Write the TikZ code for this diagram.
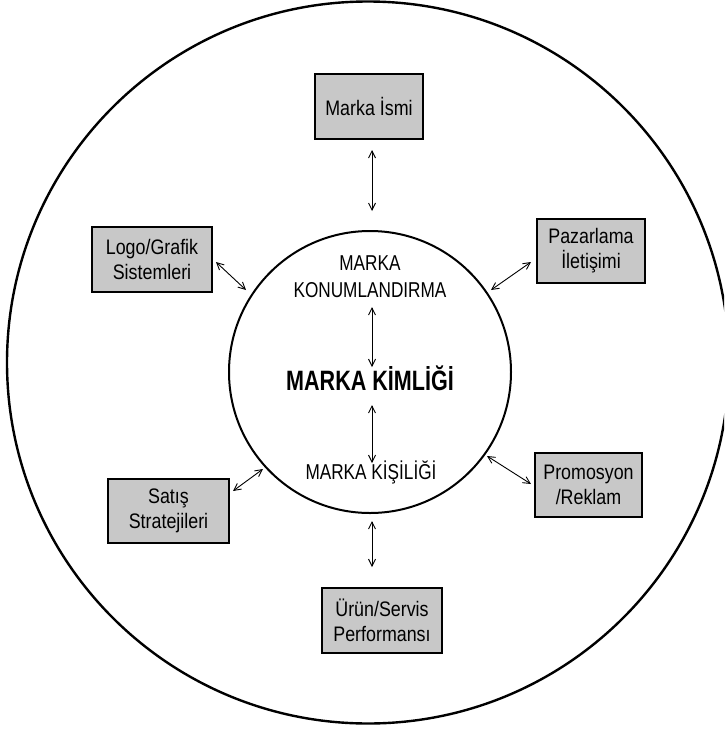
\documentclass[tikz,border=0pt]{standalone}
\usepackage{fontspec}
\setmainfont[FakeStretch=0.85]{Liberation Sans}
\newfontfamily\lblfont[FakeStretch=0.8]{Liberation Sans}
\newfontfamily\titlefont[FakeStretch=0.77]{Liberation Sans}
\usetikzlibrary{arrows.meta}
\definecolor{boxgray}{RGB}{200,200,200}
\begin{document}
\begin{tikzpicture}[x=1pt,y=-1pt,
  bx/.style={draw=black,line width=2.4pt,fill=boxgray,align=center,
    font=\fontsize{21}{25}\selectfont,inner sep=0pt},
  lbl/.style={align=center,font=\lblfont\fontsize{21.5}{27}\selectfont,inner sep=0pt},
  biarrow/.style={line width=0.9pt,{Straight Barb[length=7pt,width=7pt]}-{Straight Barb[length=7pt,width=7pt]}}]
\useasboundingbox (0,0) rectangle (724,729);
\clip (0,0) rectangle (724,729);
\fill[white] (0,0) rectangle (724,729);
% circles
\node[draw,circle,line width=2.4pt,minimum size=722pt,inner sep=0pt] (outer) at (368,362.5) {};
\node[draw,circle,line width=2pt,minimum size=282pt,inner sep=0pt] (inner) at (370,372) {};
% boxes
\node[bx,minimum width=108pt,minimum height=65pt] (isim) at (369,106.5) {Marka İsmi};
\node[bx,minimum width=120pt,minimum height=65pt] (logo) at (152,259.5) {Logo/Grafik\\Sistemleri};
\node[bx,minimum width=108pt,minimum height=64pt] (paz) at (591,251) {Pazarlama\\İletişimi};
\node[bx,minimum width=107pt,minimum height=64pt] (promo) at (588.5,485) {Promosyon\\/Reklam};
\node[bx,minimum width=121pt,minimum height=64pt] (satis) at (168.5,511) {Satış\\Stratejileri};
\node[bx,minimum width=120pt,minimum height=65pt] (urun) at (382,620.5) {Ürün/Servis\\Performansı};
% inner texts
\node[lbl] (konum) at (370,277) {MARKA\\KONUMLANDIRMA};
\node[font=\titlefont\bfseries\fontsize{28}{30}\selectfont,inner sep=0pt] (kimlik) at (370,378) {MARKA KİMLİĞİ};
\node[lbl] (kisilik) at (371,472) {MARKA KİŞİLİĞİ};
% arrow endpoints
\coordinate (a1) at (372,150); \coordinate (b1) at (372,211);
\coordinate (a2) at (216,262); \coordinate (b2) at (246,290);
\coordinate (a3) at (531,262); \coordinate (b3) at (491,290);
\coordinate (a4) at (531,484); \coordinate (b4) at (487,456);
\coordinate (a5) at (233,491); \coordinate (b5) at (263,469);
\coordinate (a6) at (372,521); \coordinate (b6) at (372,567);
\coordinate (a7) at (372,307); \coordinate (b7) at (372,367);
\coordinate (a8) at (372,405); \coordinate (b8) at (372,463);
\draw[biarrow] (a1) -- (b1);
\draw[biarrow] (a2) -- (b2);
\draw[biarrow] (a3) -- (b3);
\draw[biarrow] (a4) -- (b4);
\draw[biarrow] (a5) -- (b5);
\draw[biarrow] (a6) -- (b6);
\draw[biarrow] (a7) -- (b7);
\draw[biarrow] (a8) -- (b8);
\end{tikzpicture}
\end{document}
